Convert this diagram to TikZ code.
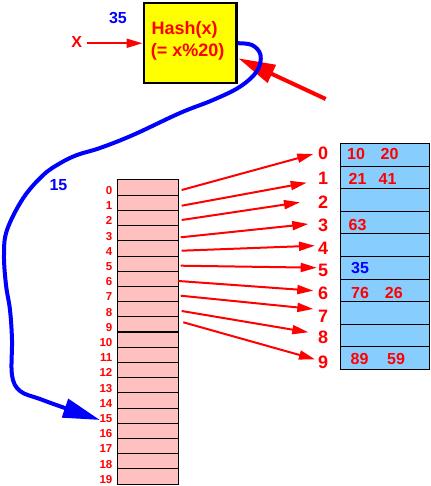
\documentclass[tikz,border=0pt]{standalone}
\usepackage{fontspec}
\setmainfont{Liberation Sans}
\usetikzlibrary{arrows.meta}
\definecolor{fred}{RGB}{255,0,0}
\definecolor{fblue}{RGB}{0,0,255}
\definecolor{fpink}{RGB}{255,192,192}
\definecolor{fltblue}{RGB}{135,206,255}
\definecolor{fyellow}{RGB}{255,255,0}
\begin{document}
\begin{tikzpicture}[x=1pt,y=-1pt,
  lcell/.style={draw=black, line width=1pt, fill=fpink, minimum width=61pt, minimum height=15.2pt, inner sep=0pt, outer sep=0pt, anchor=north west},
  rcell/.style={draw=black, line width=1pt, fill=fltblue, minimum width=89pt, minimum height=22.6pt, inner sep=0pt, outer sep=0pt, anchor=north west},
  llabel/.style={text=fred, font=\fontsize{11.5}{12}\selectfont\bfseries, inner sep=0pt, anchor=base east},
  biglabel/.style={text=fred, font=\fontsize{18}{20}\selectfont\bfseries, inner sep=0pt, anchor=base},
  numtxt/.style={font=\fontsize{16}{18}\selectfont\bfseries, inner sep=0pt, anchor=base},
  hashbox/.style={draw=black, line width=2.5pt, fill=fyellow, minimum width=92.5pt, minimum height=80pt, inner sep=0pt, anchor=north west},
  hashtxt/.style={text=fred, font=\fontsize{18}{20}\selectfont\bfseries, inner sep=0pt, anchor=base west},
  redarrow/.style={draw=fred, line width=2pt, -{Triangle[length=16pt,width=9pt]}},
  bigred/.style={draw=fred, line width=4pt, -{Triangle[length=37pt,width=19pt]}},
  bluecurve/.style={draw=fblue, line width=4pt, -{Triangle[length=37pt,width=19pt]}}
]
\useasboundingbox (0,0) rectangle (430,486);

% hash box
\node[hashbox] (hash) at (142.5,2) {};
\node[hashtxt] (h1) at (151.4,35) {Hash(x)};
\node[hashtxt] (h2) at (150.7,56.7) {(= x\%20)};
\node[numtxt, text=fblue] (k35) at (118,24) {35};
\node[numtxt, text=fred] (xl) at (76.7,48) {X};
\draw[redarrow] ([xshift=4.4pt]xl.east |- hash.west) -- (hash.west);

% left table
\foreach \i in {0,...,19} {
  \node[lcell] (L\i) at (117.3,{180+15.2*\i}) {};
  \node[llabel] (LL\i) at (112.5,{194.4+15.2*\i}) {\i};
}
\draw[line width=2pt] (L9.south west) -- (L9.south east);

% right table
\foreach \i in {0,...,9} {
  \node[rcell] (R\i) at (340.3,{143.5+22.6*\i}) {};
}
\foreach \i/\y in {0/160,1/185,2/208.3,3/231.7,4/254,5/276.7,6/299.3,7/322.7,8/343.3,9/368.3} {
  \node[biglabel] (N\i) at (323,\y) {\i};
}

% contents
\node[numtxt, text=fred] (c10) at (356,160) {10};
\node[numtxt, text=fred] (c20) at (389.5,160) {20};
\node[numtxt, text=fred] (c21) at (357.5,185) {21};
\node[numtxt, text=fred] (c41) at (387.5,185) {41};
\node[numtxt, text=fred] (c63) at (357.5,230) {63};
\node[numtxt, text=fblue] (c35) at (360,273.3) {35};
\node[numtxt, text=fred] (c76) at (360,298.3) {76};
\node[numtxt, text=fred] (c26) at (393.8,298.3) {26};
\node[numtxt, text=fred] (c89) at (359.5,364) {89};
\node[numtxt, text=fred] (c59) at (396,364) {59};

% arrows from left table to bucket labels
\foreach \i/\sx/\sy/\ex/\ey in {0/181.7/190/313.3/154, 1/181.7/205.7/306.7/182.7, 2/181.7/220/300/202.3, 3/180.7/237.3/308.3/224, 4/181.7/250.7/315/245.7, 5/180.7/265.7/316.7/267.7, 6/178.3/281/313.3/290.7, 7/180.7/295.7/313.3/309, 8/181.7/311/308.3/332.3, 9/183.3/322.3/315/359.3} {
  \coordinate (s\i) at (\sx,\sy);
  \coordinate (e\i) at (\ex,\ey);
  \draw[redarrow] (s\i) -- (e\i);
}

% big red arrow into hash box
\coordinate (rtail) at (325.7,99);
\coordinate (rtip) at (238.3,58.3);
\draw[bigred] (rtail) -- (rtip);

% blue curve
\coordinate (b15) at (100,420);
\node[numtxt, text=fblue] (k15) at (58.5,190) {15};
\draw[bluecurve] plot[smooth, tension=0.6] coordinates {(hash.east) (252,45) (260.5,55) (257,71) (240,86.7) (213,100) (180,113) (133,135) (100,148) (77,155) (60,163.3) (43.3,175) (23.3,198) (7,230) (4,255) (6,285) (10,310) (12,340) (12,375) (20,391) (40,399) (62,407) (b15)};
\end{tikzpicture}
\end{document}
